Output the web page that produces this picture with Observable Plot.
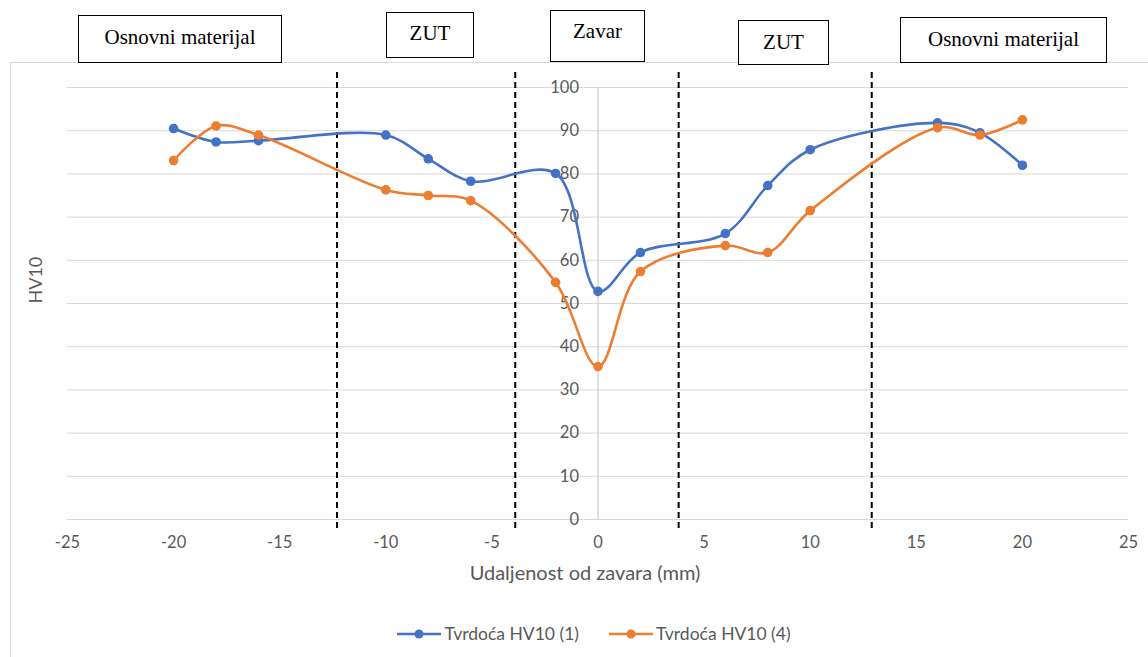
<!DOCTYPE html>
<html>
<head>
<meta charset="utf-8">
<script src="https://cdn.jsdelivr.net/npm/d3@7"></script>
<script src="https://cdn.jsdelivr.net/npm/@observablehq/plot@0.6"></script>
<style>
  html, body { margin: 0; padding: 0; background: #fff; }
  #wrap { position: relative; width: 1148px; height: 657px; overflow: hidden; font-family: Lato, sans-serif; }
  #frame { position: absolute; left: 10px; top: 62px; width: 1150px; height: 610px; border: 1px solid #d9d9d9; box-sizing: border-box; }
  #chart { position: absolute; left: 0; top: 0; }
  .box { position: absolute; border: 1.5px solid #000; background: #fff; font-family: "Liberation Serif", serif; font-size: 21px; color: #000; box-sizing: border-box; display: flex; justify-content: center; }
  #legend { position: absolute; left: 20px; top: 623px; width: 1148px; display: flex; justify-content: center; gap: 30px; font-size: 17.5px; color: #595959; }
  .li { display: flex; align-items: center; gap: 3px; }
</style>
</head>
<body>
<div id="wrap">
  <div id="frame"></div>
  <div id="chart"></div>
  <div id="legend"></div>
</div>
<script>
// Data
const xs = [-20, -18, -16, -10, -8, -6, -2, 0, 2, 6, 8, 10, 16, 18, 20];
const hv1 = [90.5, 87.4, 87.7, 89.0, 83.5, 78.3, 80.1, 52.8, 61.8, 66.2, 77.3, 85.6, 91.8, 89.5, 82.0];
const hv4 = [83.1, 91.1, 89.0, 76.3, 75.0, 73.8, 54.9, 35.4, 57.4, 63.4, 61.8, 71.5, 90.7, 89.0, 92.5];
const seriesNames = ["Tvrdoća HV10 (1)", "Tvrdoća HV10 (4)"];
const seriesColors = ["#4472C4", "#ED7D31"];
const zoneBounds = [-12.3, -3.9, 3.8, 12.9];
const zoneLabels = ["Osnovni materijal", "ZUT", "Zavar", "ZUT", "Osnovni materijal"];
const xTicks = [-25, -20, -15, -10, -5, 0, 5, 10, 15, 20, 25];
const yTicks = [0, 10, 20, 30, 40, 50, 60, 70, 80, 90, 100];
const xLabel = "Udaljenost od zavara (mm)";
const yLabel = "HV10";

const rows = [];
xs.forEach((x, i) => {
  rows.push({x, y: hv1[i], s: seriesNames[0]});
  rows.push({x, y: hv4[i], s: seriesNames[1]});
});

const grey = "#595959";
const chart = Plot.plot({
  width: 1148,
  height: 657,
  marginLeft: 67,
  marginRight: 20,
  marginTop: 87,
  marginBottom: 138,
  style: { fontFamily: "Lato, sans-serif", background: "transparent" },
  x: { domain: [-25, 25] },
  y: { domain: [0, 100] },
  color: { domain: seriesNames, range: seriesColors },
  marks: [
    Plot.ruleY(yTicks, { stroke: "#d9d9d9", strokeWidth: 1 }),
    Plot.ruleX([0], { y1: 0, y2: 100, stroke: "#d0d0d0", strokeWidth: 1.3 }),
    Plot.ruleX(zoneBounds, { y1: -2.1, y2: 104.4, stroke: "#000", strokeWidth: 2, strokeDasharray: "6,4" }),
    Plot.text(yTicks, { x: () => 0, y: d => d, text: d => String(d), textAnchor: "end", dx: -19, fontSize: 16.5, fill: grey }),
    Plot.axisX(xTicks, { tickSize: 0, tickPadding: 17, tickFormat: d => String(d), fontSize: 16.5, fill: grey, label: null }),
    Plot.axisY({ ticks: [], label: null, tickSize: 0 }),
    Plot.line(rows, { x: "x", y: "y", z: "s", stroke: "s", strokeWidth: 2.6, curve: "catmull-rom" }),
    Plot.dot(rows, { x: "x", y: "y", fill: "s", r: 4.8 }),
    Plot.text([xLabel], { frameAnchor: "bottom", dy: 60, dx: -13, text: d => d, fontSize: 20, fill: grey }),
    Plot.text([yLabel], { frameAnchor: "left", dx: -31, rotate: -90, text: d => d, fontSize: 18, fill: grey })
  ]
});
document.getElementById("chart").appendChild(chart);

// zone boxes (annotations)
const boxGeom = [
  {l: 78, t: 15, w: 204, h: 48, pt: 9},
  {l: 386, t: 12, w: 88, h: 46, pt: 8},
  {l: 550, t: 10, w: 95, h: 52, pt: 8},
  {l: 738, t: 20, w: 91, h: 45, pt: 9},
  {l: 900, t: 17, w: 207, h: 46, pt: 9}
];
const wrap = document.getElementById("wrap");
zoneLabels.forEach((lab, i) => {
  const g = boxGeom[i];
  const d = document.createElement("div");
  d.className = "box";
  Object.assign(d.style, {left: g.l + "px", top: g.t + "px", width: g.w + "px", height: g.h + "px", paddingTop: g.pt + "px"});
  d.textContent = lab;
  wrap.appendChild(d);
});

// legend
const leg = document.getElementById("legend");
seriesNames.forEach((n, i) => {
  const item = document.createElement("div");
  item.className = "li";
  item.innerHTML = `<svg width="44" height="12"><line x1="0" x2="44" y1="6" y2="6" stroke="${seriesColors[i]}" stroke-width="2.6"/><circle cx="22" cy="6" r="4.5" fill="${seriesColors[i]}"/></svg><span>${n}</span>`;
  leg.appendChild(item);
});
</script>
</body>
</html>
